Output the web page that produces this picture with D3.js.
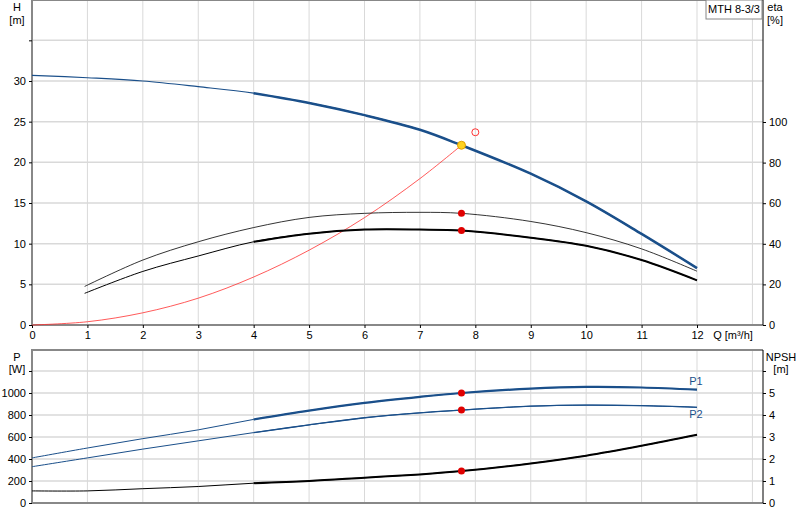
<!DOCTYPE html>
<html><head><meta charset="utf-8">
<script src="https://cdn.jsdelivr.net/npm/d3@7"></script>
<style>body{margin:0;background:#fff}text{font-family:Arial,"Liberation Sans",sans-serif;font-size:11px;fill:#000}</style>
</head><body><div class="visual"></div>
<script>
// pump curve data
const qH = [0, 1, 2, 3, 4, 5, 6, 7, 7.75, 9, 10, 11, 12];
const head = [30.7, 30.4, 30.0, 29.3, 28.5, 27.3, 25.8, 24.0, 22.1, 18.6, 15.2, 11.2, 7.0];
const qEta = [0.95, 2, 3, 4, 5, 6, 7, 7.75, 9, 10, 11, 12];
const etaUpper = [19, 32, 41, 48, 53, 55, 55.5, 55, 51, 45.5, 37.5, 26.5];
const etaLower = [15.6, 26.4, 34, 41, 45, 47, 47, 46.5, 43, 39, 32, 22];
const qSys = [0, 1, 2, 3, 4, 5, 6, 7, 7.75];
const sysH = [0, 0.4, 1.5, 3.3, 5.9, 9.2, 13.2, 18.0, 22.1];
const qP = [0, 1, 2, 3, 4, 5, 6, 7, 7.75, 9, 10, 11, 12];
const p1 = [410, 500, 585, 665, 760, 840, 910, 965, 1000, 1040, 1055, 1050, 1030];
const p2 = [330, 410, 490, 565, 640, 710, 775, 820, 845, 880, 890, 885, 870];
const npsh = [0.55, 0.55, 0.65, 0.75, 0.9, 1.0, 1.15, 1.3, 1.45, 1.8, 2.15, 2.6, 3.1];
const duty = {q: 7.75, h: 22.1, etaU: 55, etaL: 46.5, p1: 1000, p2: 845, npsh: 1.45};
const req = {q: 8.0, h: 23.7};
const qTicks = d3.range(0, 13);
const hTicks = [0, 5, 10, 15, 20, 25, 30];
const etaTicks = [0, 20, 40, 60, 80, 100];
const pTicks = [0, 200, 400, 600, 800, 1000];
const nTicks = [0, 1, 2, 3, 4, 5];

const blue = "#1a4f8a", grid = "#d9d9d9";
const svg = d3.select(".visual").append("svg").attr("width", 800).attr("height", 520);

const x = d3.scaleLinear().domain([0, 12]).range([32, 697]);
const xEnd = 763;
const yH = d3.scaleLinear().domain([0, 30]).range([325, 81]);
const yEta = d3.scaleLinear().domain([0, 100]).range([325, 122]);
const yP = d3.scaleLinear().domain([0, 1000]).range([503, 393]);
const yN = d3.scaleLinear().domain([0, 5]).range([503, 393]);

function panel(top, bottom, yScale, hlines) {
  const g = svg.append("g");
  d3.range(1, 14).forEach(q => g.append("line").attr("x1", x(q)).attr("x2", x(q))
    .attr("y1", top).attr("y2", bottom).attr("stroke", grid));
  hlines.forEach(v => g.append("line").attr("x1", 32).attr("x2", xEnd)
    .attr("y1", yScale(v)).attr("y2", yScale(v)).attr("stroke", grid).attr("stroke-width", 1.5));
  g.append("path").attr("d", `M${xEnd},${top}H32V${bottom}H${xEnd}`)
    .attr("fill", "none").attr("stroke", "#888").attr("stroke-width", 2);
  g.append("line").attr("x1", xEnd).attr("x2", xEnd).attr("y1", top).attr("y2", bottom).attr("stroke", "#000");
}
panel(0, 325, yH, [5, 10, 15, 20, 25, 30, 35, 40]);
panel(350, 503, yP, [200, 400, 600, 800, 1000, 1200]);

// axes
svg.append("g").attr("transform", "translate(32,0)")
  .call(d3.axisLeft(yH).tickValues(hTicks.concat([35])).tickSize(3).tickFormat(d => d === 35 ? "" : d))
  .call(g => g.select(".domain").remove());
svg.append("g").attr("transform", `translate(${xEnd},0)`)
  .call(d3.axisRight(yEta).tickValues(etaTicks).tickSize(3)).call(g => g.select(".domain").remove());
svg.append("g").attr("transform", "translate(0,325)")
  .call(d3.axisBottom(x).tickValues(qTicks).tickSize(3)).call(g => g.select(".domain").remove());
svg.append("g").attr("transform", "translate(32,0)")
  .call(d3.axisLeft(yP).tickValues(pTicks.concat([1200])).tickSize(3).tickFormat(d => d === 1200 ? "" : d))
  .call(g => g.select(".domain").remove());
svg.append("g").attr("transform", `translate(${xEnd},0)`)
  .call(d3.axisRight(yN).tickValues(nTicks.concat([6])).tickSize(3).tickFormat(d => d === 6 ? "" : d))
  .call(g => g.select(".domain").remove());
svg.selectAll(".tick text").style("font-size", "11px").style("font-family", "Arial, sans-serif");

// unit labels
const lab = (t, px, py, a = "middle") => svg.append("text").attr("x", px).attr("y", py).attr("text-anchor", a).text(t);
lab("H", 17, 11); lab("[m]", 17, 24);
lab("eta", 775, 11); lab("[%]", 775, 24);
lab("P", 17, 361); lab("[W]", 17, 373);
lab("NPSH", 781, 361); lab("[m]", 781, 373);
lab("Q [m³/h]", 733, 339);
svg.append("rect").attr("x", 706).attr("y", 0).attr("width", 56).attr("height", 19)
  .attr("fill", "#fff").attr("stroke", "#888");
lab("MTH 8-3/3", 734, 13);

// curves: thin over full range, thick over the working range (Q >= 4)
function curve(qs, vs, yScale, color, thinW, thickW) {
  const pts = qs.map((q, i) => [q, vs[i]]);
  const line = d3.line().x(d => x(d[0])).y(d => yScale(d[1])).curve(d3.curveCatmullRom);
  svg.append("path").attr("d", line(pts)).attr("fill", "none").attr("stroke", color).attr("stroke-width", thinW);
  if (thickW) svg.append("path").attr("d", line(pts.filter(d => d[0] >= 4)))
    .attr("fill", "none").attr("stroke", color).attr("stroke-width", thickW);
}
curve(qSys, sysH, yH, "#ff3030", 0.8);
curve(qH, head, yH, blue, 1.2, 2.5);
curve(qEta, etaUpper, yEta, "#000", 0.8);
curve(qEta, etaLower, yEta, "#000", 1, 2);
curve(qP, p1, yP, blue, 1, 2.2);
curve(qP, p2, yP, blue, 1, 1.3);
curve(qP, npsh, yN, "#000", 1, 2);

const dot = (q, yv, fill, r = 3.5) => svg.append("circle").attr("cx", x(q)).attr("cy", yv).attr("r", r).attr("fill", fill);
dot(duty.q, yEta(duty.etaU), "#e00000");
dot(duty.q, yEta(duty.etaL), "#e00000");
dot(duty.q, yP(duty.p1), "#e00000");
dot(duty.q, yP(duty.p2), "#e00000");
dot(duty.q, yN(duty.npsh), "#e00000");
svg.append("circle").attr("cx", x(duty.q)).attr("cy", yH(duty.h)).attr("r", 4)
  .attr("fill", "#ffd21f").attr("stroke", "#e0a000");
svg.append("circle").attr("cx", x(req.q)).attr("cy", yH(req.h)).attr("r", 3.5)
  .attr("fill", "none").attr("stroke", "#ff3030");

svg.append("text").attr("x", 696).attr("y", 385).attr("text-anchor", "middle").style("fill", blue).text("P1");
svg.append("text").attr("x", 696).attr("y", 418).attr("text-anchor", "middle").style("fill", blue).text("P2");
</script></body></html>
